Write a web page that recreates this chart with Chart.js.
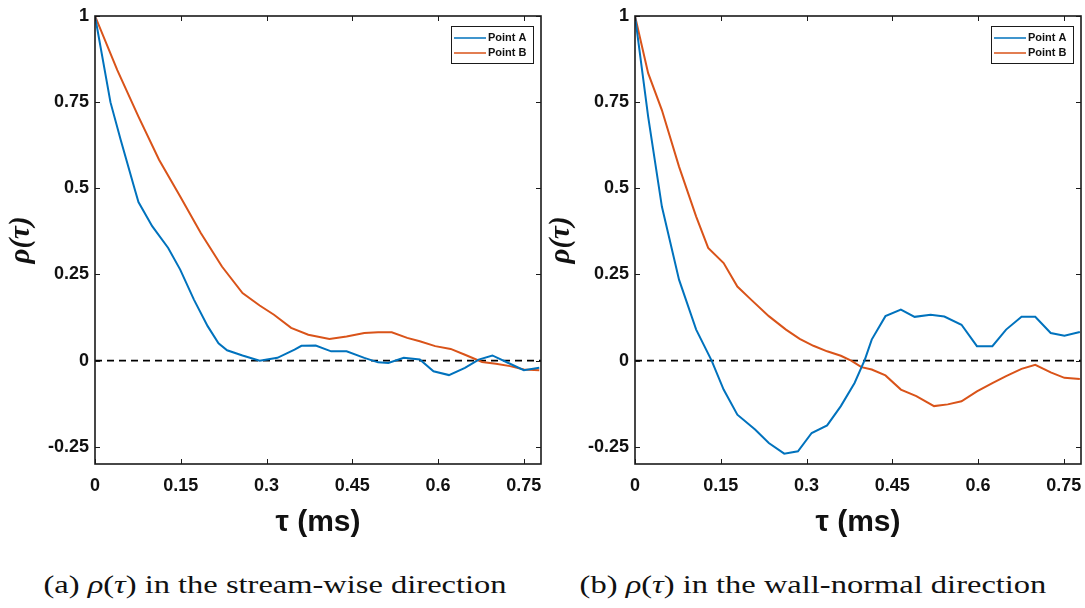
<!DOCTYPE html>
<html>
<head>
<meta charset="utf-8">
<script src="https://cdn.jsdelivr.net/npm/chart.js@4"></script>
<style>
  body { margin: 0; background: #fff; width: 1085px; height: 608px; position: relative; overflow: hidden; }
  canvas { position: absolute; top: 0; }
  #left { left: 0; }
  #right { left: 540px; }
  .cap { position: absolute; top: 571px; font-family: "Liberation Serif", serif; font-size: 25px; color: #111; white-space: nowrap; transform: translateX(-50%) scaleX(1.3); }
</style>
</head>
<body>
<canvas id="left" width="548" height="545"></canvas>
<canvas id="right" width="545" height="545"></canvas>
<div class="cap" style="left:275px">(a) <i>ρ</i>(<i>τ</i>) in the stream-wise direction</div>
<div class="cap" style="left:813px">(b) <i>ρ</i>(<i>τ</i>) in the wall-normal direction</div>
<script>
// axis ticks
const xTicks = [0, 0.15, 0.3, 0.45, 0.6, 0.75];
const xTickLabels = ['0', '0.15', '0.3', '0.45', '0.6', '0.75'];
const yTicks = [1, 0.75, 0.5, 0.25, 0, -0.25];
const yTickLabels = ['1', '0.75', '0.5', '0.25', '0', '-0.25'];

// (a) stream-wise
const leftTauA = [0, 0.027, 0.045, 0.069, 0.076, 0.1, 0.128, 0.149, 0.173, 0.197, 0.216, 0.231, 0.258, 0.288, 0.319, 0.349, 0.361, 0.386, 0.413, 0.44, 0.471, 0.495, 0.513, 0.54, 0.568, 0.592, 0.619, 0.647, 0.671, 0.695, 0.723, 0.75, 0.777];
const leftRhoA = [1, 0.75, 0.64, 0.5, 0.46, 0.39, 0.327, 0.264, 0.177, 0.10, 0.05, 0.03, 0.015, 0.0, 0.008, 0.032, 0.043, 0.044, 0.027, 0.027, 0.008, -0.005, -0.007, 0.008, 0.003, -0.031, -0.042, -0.021, 0.003, 0.015, -0.007, -0.028, -0.021];
const leftTauB = [0, 0.039, 0.076, 0.112, 0.149, 0.185, 0.222, 0.258, 0.288, 0.313, 0.343, 0.373, 0.41, 0.44, 0.471, 0.495, 0.519, 0.546, 0.568, 0.595, 0.622, 0.647, 0.677, 0.701, 0.726, 0.75, 0.777];
const leftRhoB = [1, 0.843, 0.708, 0.583, 0.476, 0.37, 0.273, 0.196, 0.16, 0.133, 0.095, 0.075, 0.063, 0.07, 0.08, 0.082, 0.082, 0.066, 0.056, 0.042, 0.034, 0.017, -0.004, -0.009, -0.016, -0.026, -0.028];

// (b) wall-normal
const rightTauA = [0, 0.023, 0.047, 0.077, 0.107, 0.134, 0.155, 0.179, 0.21, 0.234, 0.261, 0.285, 0.309, 0.336, 0.36, 0.384, 0.402, 0.414, 0.438, 0.465, 0.489, 0.517, 0.541, 0.571, 0.598, 0.625, 0.649, 0.676, 0.7, 0.727, 0.751, 0.778];
const rightRhoA = [1, 0.708, 0.447, 0.235, 0.09, 0, -0.084, -0.157, -0.2, -0.239, -0.27, -0.263, -0.21, -0.188, -0.132, -0.065, 0.003, 0.061, 0.129, 0.148, 0.127, 0.133, 0.128, 0.104, 0.042, 0.042, 0.09, 0.127, 0.127, 0.08, 0.072, 0.083];
const rightTauB = [0, 0.023, 0.047, 0.077, 0.107, 0.128, 0.155, 0.179, 0.203, 0.234, 0.264, 0.288, 0.312, 0.336, 0.36, 0.378, 0.396, 0.414, 0.438, 0.465, 0.492, 0.523, 0.547, 0.571, 0.598, 0.625, 0.649, 0.676, 0.7, 0.727, 0.751, 0.778];
const rightRhoB = [1, 0.834, 0.727, 0.563, 0.418, 0.327, 0.283, 0.215, 0.177, 0.129, 0.09, 0.063, 0.043, 0.027, 0.014, 0, -0.019, -0.026, -0.043, -0.084, -0.103, -0.132, -0.127, -0.118, -0.089, -0.065, -0.045, -0.024, -0.012, -0.034, -0.05, -0.053];

// zero reference line
const zeroTau = [0, 0.78];
const zeroRho = [0, 0];

const blue = '#0072BD';
const orange = '#D95319';

function pts(xs, ys) {
    return xs.map((x, i) => ({ x: x, y: ys[i] }));
}

// frame with inward ticks on all four sides (MATLAB style box)
const boxPlugin = {
    id: 'box',
    afterDraw(chart) {
        const { ctx, chartArea: a, scales: { x, y } } = chart;
        ctx.save();
        ctx.strokeStyle = '#1a1a1a';
        ctx.lineWidth = 1;
        xTicks.forEach(v => {
            const px = Math.round(x.getPixelForValue(v)) + 0.5;
            ctx.beginPath();
            ctx.moveTo(px, a.bottom); ctx.lineTo(px, a.bottom - 5);
            ctx.moveTo(px, a.top); ctx.lineTo(px, a.top + 5);
            ctx.stroke();
        });
        yTicks.forEach(v => {
            const py = Math.round(y.getPixelForValue(v)) + 0.5;
            ctx.beginPath();
            ctx.moveTo(a.left, py); ctx.lineTo(a.left + 5, py);
            ctx.moveTo(a.right, py); ctx.lineTo(a.right - 5, py);
            ctx.stroke();
        });
        ctx.lineWidth = 1.6;
        ctx.strokeRect(a.left, a.top, a.right - a.left, a.bottom - a.top);
        ctx.restore();
    }
};

// legend box inside the top right corner
const legendPlugin = {
    id: 'boxLegend',
    afterDraw(chart) {
        const { ctx, chartArea: a } = chart;
        const items = chart.data.datasets.filter(d => d.label);
        const w = 82, h = 37;
        const bx = a.right - 8 - w, by = a.top + 10;
        ctx.save();
        ctx.fillStyle = '#fff';
        ctx.fillRect(bx, by, w, h);
        ctx.strokeStyle = '#1a1a1a';
        ctx.lineWidth = 1;
        ctx.strokeRect(bx + 0.5, by + 0.5, w, h);
        ctx.font = 'bold 11px "Liberation Sans", Arial, sans-serif';
        ctx.textBaseline = 'middle';
        items.forEach((d, i) => {
            const ly = by + 12 + i * 15;
            ctx.strokeStyle = d.borderColor;
            ctx.lineWidth = 1.5;
            ctx.beginPath();
            ctx.moveTo(bx + 3, ly); ctx.lineTo(bx + 35, ly);
            ctx.stroke();
            ctx.fillStyle = '#111';
            ctx.fillText(d.label, bx + 37, ly);
        });
        ctx.restore();
    }
};

function makeChart(id, tauA, rhoA, tauB, rhoB, padRight) {
    const tickFont = { family: '"Liberation Sans", Arial, sans-serif', size: 18, weight: 'bold' };
    return new Chart(document.getElementById(id), {
        type: 'line',
        data: {
            datasets: [
                { label: 'Point A', data: pts(tauA, rhoA), borderColor: blue, borderWidth: 2 },
                { label: 'Point B', data: pts(tauB, rhoB), borderColor: orange, borderWidth: 2 },
                { label: '', data: pts(zeroTau, zeroRho), borderColor: '#000', borderWidth: 1.8, borderDash: [7, 5] }
            ]
        },
        options: {
            responsive: false,
            animation: false,
            devicePixelRatio: 1,
            elements: { point: { radius: 0 }, line: { tension: 0 } },
            layout: { padding: { top: 16, right: padRight, left: 0, bottom: 0 } },
            plugins: { legend: { display: false }, tooltip: { enabled: false } },
            scales: {
                x: {
                    type: 'linear', min: 0, max: 0.78,
                    afterBuildTicks: s => { s.ticks = xTicks.map(v => ({ value: v })); },
                    afterFit: s => { s.height = 81; s.paddingLeft = 0; s.paddingRight = 0; },
                    grid: { display: false, drawTicks: false },
                    border: { display: false },
                    ticks: { color: '#111', font: tickFont, padding: 11, maxRotation: 0, autoSkip: false,
                        callback: (v, i) => xTickLabels[i] },
                    title: { display: true, text: 'τ (ms)', color: '#111',
                        font: { family: '"Liberation Sans", Arial, sans-serif', size: 30, weight: 'bold' },
                        padding: { top: 0, bottom: 4 } }
                },
                y: {
                    type: 'linear', min: -0.3, max: 1,
                    afterBuildTicks: s => { s.ticks = yTicks.map(v => ({ value: v })); },
                    afterFit: s => { s.width = 95; s.paddingTop = 0; s.paddingBottom = 0; },
                    grid: { display: false, drawTicks: false },
                    border: { display: false },
                    ticks: { color: '#111', font: tickFont, padding: 6, autoSkip: false,
                        callback: (v, i) => yTickLabels[i] },
                    title: { display: true, text: 'ρ(τ)', color: '#111',
                        font: { family: '"Liberation Serif", serif', size: 29, weight: 'bold', style: 'italic' },
                        padding: { top: 4, bottom: 0 } }
                }
            }
        },
        plugins: [boxPlugin, legendPlugin]
    });
}

makeChart('left', leftTauA, leftRhoA, leftTauB, leftRhoB, 7);
makeChart('right', rightTauA, rightRhoA, rightTauB, rightRhoB, 4);
</script>
</body>
</html>
